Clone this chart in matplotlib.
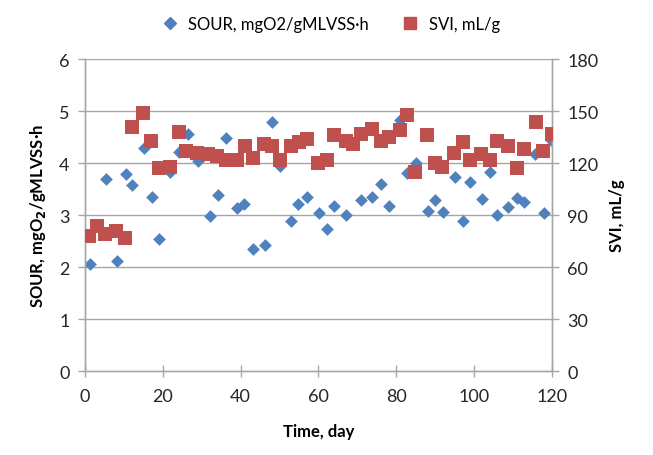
import matplotlib
matplotlib.use("Agg")
import matplotlib.pyplot as plt
from matplotlib.lines import Line2D

plt.rcParams['font.family'] = ['Lato', 'DejaVu Sans']

sour_day = [1.3, 5.3, 8.3, 10.5, 12.2, 15.2, 17.3, 19.0, 21.9, 24.2, 26.4, 29.0, 32.1, 34.1,
            36.2, 39.2, 41.0, 43.3, 46.3, 48.2, 50.1, 53.1, 54.8, 57.0, 60.2, 62.1, 64.1,
            67.0, 70.9, 73.9, 76.1, 78.2, 81.0, 82.8, 85.1, 88.3, 90.0, 92.1, 95.1, 97.3,
            99.0, 102.0, 104.1, 106.0, 108.8, 111.0, 112.9, 115.7, 118.0, 120.0]
sour_val = [2.06, 3.70, 2.12, 3.79, 3.58, 4.30, 3.34, 2.54, 3.83, 4.22, 4.56, 4.04, 2.99, 3.38,
            4.48, 3.13, 3.21, 2.35, 2.42, 4.80, 3.94, 2.89, 3.21, 3.35, 3.04, 2.73, 3.17,
            3.00, 3.29, 3.34, 3.60, 3.17, 4.83, 3.81, 4.01, 3.08, 3.29, 3.06, 3.74, 2.88,
            3.63, 3.32, 3.83, 3.00, 3.16, 3.33, 3.26, 4.17, 3.04, 4.43]

svi_day = [1.1, 3.2, 5.1, 8.1, 10.3, 12.0, 15.0, 17.1, 19.0, 22.0, 24.2, 26.1, 28.7, 31.7,
           33.9, 36.2, 39.0, 41.1, 43.1, 46.0, 48.2, 50.1, 53.1, 55.1, 57.0, 60.0, 62.1,
           64.1, 67.0, 69.0, 71.0, 73.9, 76.1, 78.2, 81.0, 82.9, 84.8, 88.0, 90.0, 91.9,
           94.9, 97.1, 99.0, 101.8, 104.1, 106.0, 108.8, 111.0, 112.9, 115.9, 117.8, 120.0]
svi_val = [78, 84, 79, 81, 77, 141, 149, 133, 117, 118, 138, 127, 126, 125,
           124, 122, 122, 130, 123, 131, 130, 122, 130, 132, 134, 120, 122,
           136, 133, 131, 137, 140, 133, 135, 139, 148, 115, 136, 120, 118,
           126, 132, 122, 125, 122, 133, 130, 117, 128, 144, 127, 137]

blue = '#4F81BD'
red = '#C0504D'
grid_c = '#A6A6A6'

fig = plt.figure(figsize=(6.53, 4.56), dpi=100)
ax = fig.add_axes([0.130, 0.184, 0.715, 0.684])
ax2 = ax.twinx()

ax.set_xlim(0, 120)
ax.set_ylim(0, 6)
ax2.set_ylim(0, 180)
ax.set_xticks(range(0, 121, 20))
ax.set_yticks(range(0, 7, 1))
ax2.set_yticks(range(0, 181, 30))

for y in range(1, 7):
    ax.axhline(y, color=grid_c, lw=1.0, zorder=0)

ax.scatter(sour_day, sour_val, marker='D', s=42, color=blue, zorder=2, linewidths=0)
ax2.scatter(svi_day, svi_val, marker='s', s=88, color=red, zorder=3, linewidths=0)

for a in (ax, ax2):
    a.spines['top'].set_visible(False)
    for s in ('left', 'right', 'bottom'):
        a.spines[s].set_color(grid_c)
        a.spines[s].set_linewidth(1.0)
    a.tick_params(colors=grid_c, labelcolor='#262626', labelsize=13, length=5, width=1.0)

ax.tick_params(axis='x', direction='inout', pad=8, length=8)
ax.tick_params(axis='y', direction='out', pad=6)
ax2.tick_params(axis='y', direction='out', pad=6)

ax.set_xlabel('Time, day', fontsize=12, fontweight='bold', labelpad=14)
ax.set_ylabel('SOUR, mgO$_\\mathbf{2}$/gMLVSS·h', fontsize=12, fontweight='bold', labelpad=8)
ax2.set_ylabel('SVI, mL/g', fontsize=12, fontweight='bold', labelpad=8)

handles = [Line2D([], [], marker='D', color=blue, ls='none', markersize=6),
           Line2D([], [], marker='s', color=red, ls='none', markersize=9)]
fig.legend(handles, ['SOUR, mgO2/gMLVSS·h', 'SVI, mL/g'], loc='upper center',
           bbox_to_anchor=(0.5, 0.995), ncol=2, frameon=False, fontsize=12,
           handletextpad=0.1, columnspacing=1.5)

fig.savefig('out.png', dpi=100)
